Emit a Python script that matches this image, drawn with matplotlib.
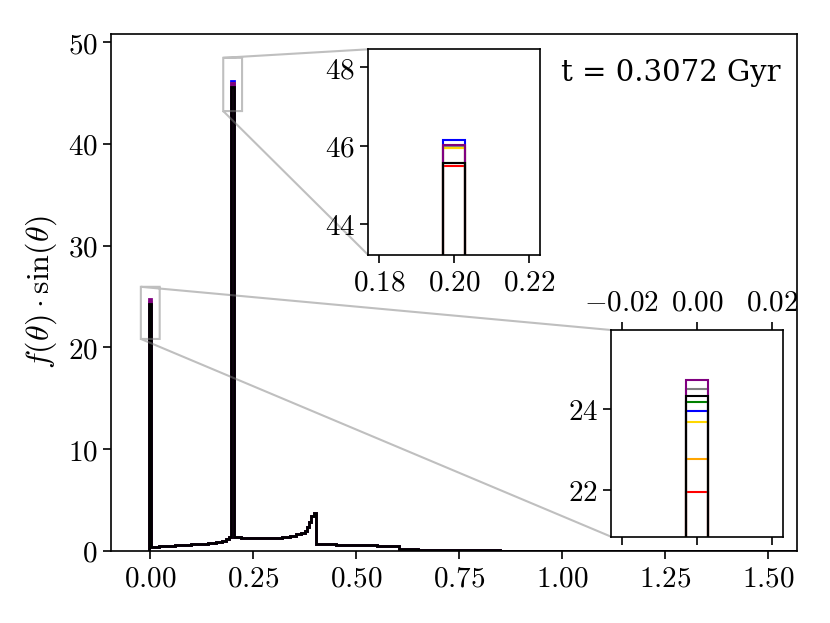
import numpy as np
import matplotlib
matplotlib.use("Agg")
import matplotlib.pyplot as plt
from matplotlib.ticker import FuncFormatter, MultipleLocator, FixedLocator

plt.rcParams['mathtext.fontset'] = 'cm'
plt.rcParams['font.family'] = ['DejaVu Serif']

# ---------------- data ----------------
bin_w = 0.2 / 35.0  # histogram bin width

series_colors = ['red', 'orange', 'gold', 'green', 'blue', 'gray', 'purple', 'black']
# value of the bin centred on theta = 0
spike0_vals = [21.93, 22.75, 23.67, 24.17, 23.94, 24.49, 24.72, 24.31]
# value of the bin centred on theta = 0.2
spike1_vals = [45.50, 45.95, 45.94, 45.57, 46.15, 46.00, 46.01, 45.57]

# shared profile (between spikes): bin edges and values
prof_a_edges = [0.02, 0.04, 0.06, 0.08, 0.10, 0.12, 0.14, 0.16, 0.175, 0.185, 0.191]
prof_a_vals = [0.42, 0.47, 0.52, 0.57, 0.62, 0.67, 0.73, 0.80, 0.90, 1.02, 1.22, 1.42]
prof_b_edges = [0.21, 0.22, 0.25, 0.29, 0.32, 0.34, 0.355, 0.365, 0.375, 0.38,
                0.386, 0.391, 0.3971, 0.4029, 0.45, 0.50, 0.55, 0.6029, 0.65,
                0.70, 0.75, 0.80, 0.85, 0.90, 0.95, 1.00]
prof_b_vals = [1.42, 1.35, 1.30, 1.25, 1.32, 1.40, 1.50, 1.62, 1.80, 2.00, 2.40,
               2.80, 3.40, 3.76, 0.66, 0.60, 0.54, 0.47, 0.20, 0.14, 0.10, 0.07,
               0.05, 0.03, 0.02, 0.01, 0.0]
theta_max = np.pi / 2

time_label = 't = 0.3072 Gyr'

# ---------------- figure ----------------
fig = plt.figure(figsize=(8.3, 6.23), dpi=100)
ax = fig.add_axes([0.1334, 0.1156, 0.8272, 0.8293])

def build(s0, s1):
    edges = ([-bin_w / 2, bin_w / 2] + prof_a_edges + [0.2 - bin_w / 2, 0.2 + bin_w / 2]
             + prof_b_edges + [theta_max])
    vals = [s0] + prof_a_vals + [s1] + prof_b_vals
    return np.array(edges), np.array(vals)

axins1 = ax.inset_axes([0.375, 0.573, 0.25, 0.398])
axins2 = ax.inset_axes([0.7287, 0.0277, 0.25, 0.40])

for c, s0, s1 in zip(series_colors, spike0_vals, spike1_vals):
    e, v = build(s0, s1)
    ax.stairs(v, e, baseline=0, color=c, lw=2.0)
    for a in (axins1, axins2):
        a.stairs(v, e, baseline=0, color=c, lw=1.5)

ax.set_xlim(-0.096, theta_max)
ax.set_ylim(0, 1.1 * max(spike1_vals))
ax.xaxis.set_major_locator(MultipleLocator(0.25))
ax.yaxis.set_major_locator(MultipleLocator(10))
fs = 21
ax.xaxis.set_major_formatter(FuncFormatter(lambda v, p: f"${v:.2f}$"))
ax.yaxis.set_major_formatter(FuncFormatter(lambda v, p: f"${v:.0f}$"))
ax.tick_params(labelsize=fs, length=6, width=1.2)
ax.set_ylabel(r'$f(\theta)\cdot\sin(\theta)$', fontsize=23, labelpad=6)
for sp in ax.spines.values():
    sp.set_linewidth(1.2)

ax.text(0.975, 0.925, time_label, transform=ax.transAxes, ha='right', va='center',
        fontsize=21, family='DejaVu Serif')

# upper inset
axins1.set_xlim(0.2 - 4 * bin_w, 0.2 + 4 * bin_w)
axins1.set_ylim(0.95 * min(spike1_vals), 1.05 * max(spike1_vals))
axins1.xaxis.set_major_locator(FixedLocator([0.18, 0.20, 0.22]))
axins1.yaxis.set_major_locator(FixedLocator([44, 46, 48]))
axins1.xaxis.set_major_formatter(FuncFormatter(lambda v, p: f"${v:.2f}$"))
axins1.yaxis.set_major_formatter(FuncFormatter(lambda v, p: f"${v:.0f}$"))
axins1.tick_params(labelsize=fs, length=6, width=1.2)

# lower inset
axins2.set_xlim(-4 * bin_w, 4 * bin_w)
axins2.set_ylim(0.95 * min(spike0_vals), 1.05 * max(spike0_vals))
axins2.xaxis.set_major_locator(FixedLocator([-0.02, 0.0, 0.02]))
axins2.yaxis.set_major_locator(FixedLocator([22, 24]))
axins2.xaxis.set_major_formatter(FuncFormatter(lambda v, p: f"${v:.2f}$"))
axins2.yaxis.set_major_formatter(FuncFormatter(lambda v, p: f"${v:.0f}$"))
axins2.tick_params(labelsize=fs, length=6, width=1.2)
axins2.tick_params(axis='x', top=True, bottom=True, labeltop=True, labelbottom=False)

for a in (axins1, axins2):
    for sp in a.spines.values():
        sp.set_linewidth(1.2)
    ind = ax.indicate_inset_zoom(a, edgecolor='0.5', alpha=0.5, lw=1.5)
    conns = ind.connectors
    for i, cn in enumerate(conns):
        cn.set_visible(i in (0, 1))
        cn.set_linewidth(1.5)

fig.savefig('out.png', dpi=100)
